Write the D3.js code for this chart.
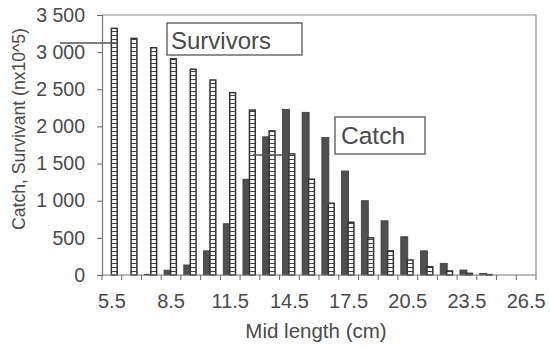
<!DOCTYPE html>
<html lang="en">
<head>
  <meta charset="utf-8">
  <title>Catch and survivors by mid length</title>
  <script src="https://d3js.org/d3.v7.js"></script>
  <style>
    body { margin: 0; background: #fff; }
    text { font-family: "Liberation Sans", Arial, sans-serif; fill: #4a4a4a; }
  </style>
</head>
<body>
  <div id="my_dataviz"></div>

  <script>
    // Data (nx10^5)
    var lengths = ["5.5","6.5","7.5","8.5","9.5","10.5","11.5","12.5","13.5","14.5","15.5",
                   "16.5","17.5","18.5","19.5","20.5","21.5","22.5","23.5","24.5","25.5","26.5"];
    var catchValues = [0, 0, 10, 65, 135, 325, 690, 1290, 1860, 2230, 2190,
                       1850, 1400, 1000, 730, 515, 325, 157, 67, 22, 0, 0];
    var survivorValues = [3320, 3185, 3060, 2910, 2770, 2625, 2455, 2220, 1940, 1630, 1290,
                          965, 710, 500, 325, 202, 112, 54, 22, 5, 0, 0];
    var yTicks = [0, 500, 1000, 1500, 2000, 2500, 3000, 3500];
    var xLabels = ["5.5","8.5","11.5","14.5","17.5","20.5","23.5","26.5"];

    var W = 550, H = 346;
    var plotLeft = 102, plotRight = 536, plotTop = 15, plotBottom = 275;

    var svg = d3.select("#my_dataviz")
      .append("svg")
      .attr("width", W)
      .attr("height", H);

    // Ladder pattern for survivors bars
    var defs = svg.append("defs");
    var pat = defs.append("pattern")
      .attr("id", "ladder")
      .attr("patternUnits", "userSpaceOnUse")
      .attr("width", 8).attr("height", 4)
      .attr("y", plotBottom);
    pat.append("rect").attr("width", 8).attr("height", 4).attr("fill", "#fff");
    pat.append("line").attr("x1", 0).attr("x2", 8).attr("y1", 0.5).attr("y2", 0.5)
      .attr("stroke", "#444").attr("stroke-width", 1.1);

    // Scales
    var x = d3.scaleBand().domain(lengths).range([plotLeft, plotRight]).padding(0);
    var xSub = d3.scaleBand().domain(["catch", "surv"]).range([-7, 5]);
    var y = d3.scaleLinear().domain([0, 3500]).range([plotBottom, plotTop]);

    // Frame (top and right border)
    svg.append("path")
      .attr("d", "M" + plotLeft + "," + plotTop + "H" + plotRight + "V" + plotBottom)
      .attr("fill", "none").attr("stroke", "#888").attr("stroke-width", 1.2);

    // Bars
    var data = lengths.map(function(l, i) {
      return {len: l, c: catchValues[i], s: survivorValues[i]};
    });
    var g = svg.append("g");
    g.selectAll(".catch")
      .data(data.filter(function(d) { return d.c > 0; }))
      .enter().append("rect")
      .attr("class", "catch")
      .attr("x", function(d) { return x(d.len) + x.bandwidth() / 2 + xSub("catch"); })
      .attr("y", function(d) { return y(d.c); })
      .attr("width", 7)
      .attr("height", function(d) { return plotBottom - y(d.c); })
      .attr("fill", "#505050")
      .attr("stroke", "#383838").attr("stroke-width", 0.8);
    g.selectAll(".surv")
      .data(data.filter(function(d) { return d.s > 0; }))
      .enter().append("rect")
      .attr("class", "surv")
      .attr("x", function(d) { return x(d.len) + x.bandwidth() / 2 + xSub("surv") + 0.5; })
      .attr("y", function(d) { return y(d.s); })
      .attr("width", 5.8)
      .attr("height", function(d) { return plotBottom - y(d.s); })
      .attr("fill", "url(#ladder)")
      .attr("stroke", "#333").attr("stroke-width", 1.5);

    // Y axis
    var fmt = function(v) { return d3.format(",")(v).replace(",", " "); };
    var yAxis = svg.append("g")
      .attr("transform", "translate(" + plotLeft + ",0)")
      .call(d3.axisLeft(y).tickValues(yTicks).tickSize(5).tickPadding(12).tickFormat(fmt));
    yAxis.select(".domain").attr("stroke", "#777").attr("stroke-width", 1.2);
    yAxis.selectAll(".tick line").attr("stroke", "#666");
    yAxis.selectAll("text").style("font-size", "19.5px");

    // X axis: ticks between categories, labels every third category
    var xAxis = svg.append("g")
      .attr("transform", "translate(0," + plotBottom + ")");
    xAxis.append("line")
      .attr("x1", plotLeft).attr("x2", plotRight)
      .attr("stroke", "#777").attr("stroke-width", 1.2);
    xAxis.selectAll(".xt")
      .data(lengths.concat(["end"]))
      .enter().append("line")
      .attr("x1", function(d) { return d === "end" ? plotRight : x(d); })
      .attr("x2", function(d) { return d === "end" ? plotRight : x(d); })
      .attr("y1", 0).attr("y2", 5)
      .attr("stroke", "#666");
    xAxis.selectAll(".xl")
      .data(xLabels)
      .enter().append("text")
      .attr("x", function(d) { return x(d) + x.bandwidth() / 2; })
      .attr("y", 33)
      .attr("text-anchor", "middle")
      .style("font-size", "20px")
      .text(function(d) { return d; });

    // Axis titles
    svg.append("text")
      .attr("x", 316).attr("y", 338)
      .attr("text-anchor", "middle")
      .style("font-size", "20.5px")
      .text("Mid length (cm)");
    svg.append("text")
      .attr("transform", "translate(25,129) rotate(-90)")
      .attr("text-anchor", "middle")
      .style("font-size", "17.6px")
      .text("Catch, Survivant (nx10^5)");

    // Callout labels
    svg.append("line").attr("x1", 60).attr("x2", 118).attr("y1", 43).attr("y2", 43)
      .attr("stroke", "#555").attr("stroke-width", 1.5);
    svg.append("rect").attr("x", 167).attr("y", 23).attr("width", 135).attr("height", 32)
      .attr("fill", "#fff").attr("stroke", "#555").attr("stroke-width", 1.3);
    svg.append("text").attr("x", 171).attr("y", 49)
      .style("font-size", "24px").attr("fill", "#555").text("Survivors");

    svg.append("line").attr("x1", 253).attr("x2", 290).attr("y1", 155).attr("y2", 155)
      .attr("stroke", "#555").attr("stroke-width", 1.3);
    svg.append("rect").attr("x", 335).attr("y", 117).attr("width", 90).attr("height", 37)
      .attr("fill", "#fff").attr("stroke", "#555").attr("stroke-width", 1.3);
    svg.append("text").attr("x", 341).attr("y", 144)
      .style("font-size", "24.5px").attr("fill", "#555").text("Catch");
  </script>
</body>
</html>
